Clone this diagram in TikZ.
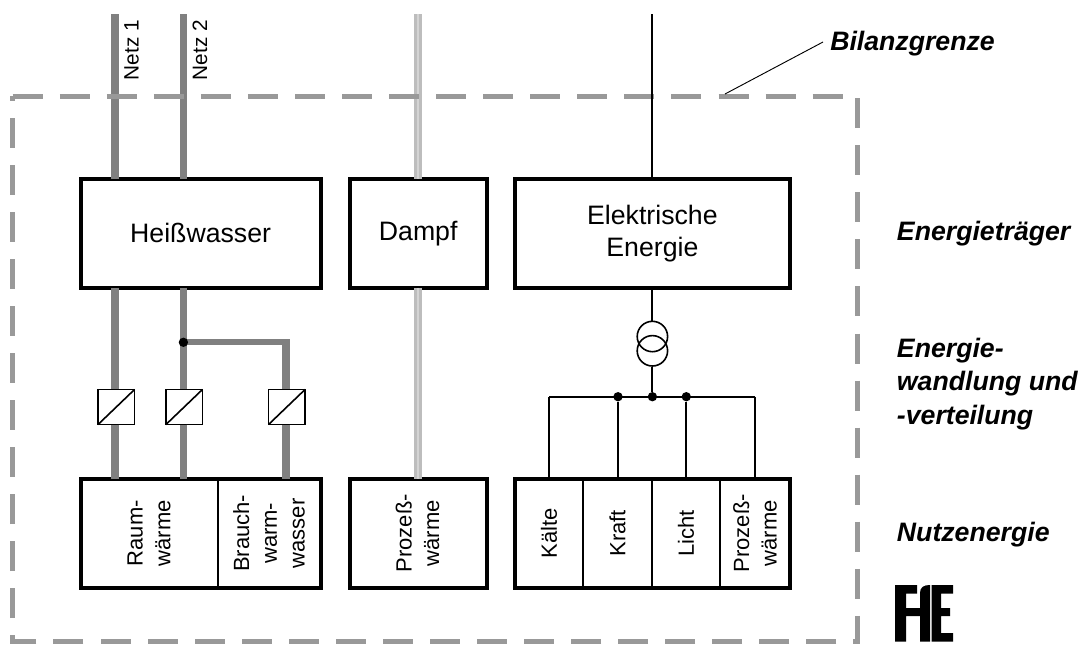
\documentclass[tikz,border=0pt]{standalone}
\usepackage{fontspec}
\setmainfont{Liberation Sans}
\usetikzlibrary{calc}

\definecolor{heizgrau}{HTML}{808080}
\definecolor{dampfgrau}{HTML}{BDBDBD}
\definecolor{dampfhell}{HTML}{D4D4D4}
\definecolor{grenzgrau}{HTML}{999999}

\begin{document}
\begin{tikzpicture}[
    x=0.75pt,
    y=-0.75pt,
    kasten/.style={
        draw,
        fill=white,
        line width=3pt,
        minimum height=82pt,
        inner sep=0pt,
        outer sep=0pt,
        align=center,
        font=\fontsize{20}{24}\selectfont
    },
    wandler/.style={
        draw,
        fill=white,
        line width=1.2pt,
        minimum width=27.4pt,
        minimum height=26.3pt,
        inner sep=0pt,
        outer sep=0pt
    },
    heizung/.style={draw=heizgrau, line width=5.5pt},
    leitung/.style={draw=black, line width=1.4pt},
    trennung/.style={draw=black, line width=1.4pt},
    punkt/.style={circle, fill=black, minimum size=7pt, inner sep=0pt},
    trafo/.style={circle, draw, line width=1.2pt, minimum size=22.8pt, inner sep=0pt},
    nutzung/.style={
        rotate=90,
        align=center,
        inner sep=0pt,
        font=\fontsize{16.5}{20.8}\selectfont
    },
    netzname/.style={
        rotate=90,
        anchor=base west,
        inner sep=0pt,
        font=\fontsize{15.6}{18}\selectfont
    },
    ebene/.style={
        anchor=base west,
        align=left,
        inner sep=0pt,
        font=\fontsize{20}{25}\selectfont\bfseries\itshape
    }
]
    \useasboundingbox (0,0) rectangle (1083,644);

    % Column positions
    \pgfmathsetmacro{\xNetzA}{115}
    \pgfmathsetmacro{\xNetzB}{183.4}
    \pgfmathsetmacro{\xBrauch}{286}
    \pgfmathsetmacro{\xDampf}{418}
    \pgfmathsetmacro{\xStrom}{652.4}

    % Free ends at the top
    \coordinate (netzA) at (\xNetzA,14);
    \coordinate (netzB) at (\xNetzB,14);
    \coordinate (dampfrohr) at (\xDampf,14);
    \coordinate (stromnetz) at (\xStrom,14);
    \coordinate (brauchrohr) at (\xBrauch,342.3);

    % Boxes, upper row
    \path (200.6,233.3) node[kasten, minimum width=180.15pt] (heiss) {Heißwasser};
    \path (418.2,233.3) node[kasten, minimum width=102.6pt] (dampf) {Dampf};
    \path (652.4,233.3) node[kasten, minimum width=205.9pt] (strom) {Elektrische\\Energie};

    % Boxes, lower row
    \path (200.6,533.3) node[kasten, minimum width=180.15pt] (nutzA) {};
    \path (418.2,533.3) node[kasten, minimum width=102.6pt] (nutzB) {};
    \path (652.4,533.3) node[kasten, minimum width=205.9pt] (nutzC) {};

    % Converters
    \node[wandler] (wandlerA) at (116.3,407) {};
    \node[wandler] (wandlerB) at (184.2,407) {};
    \node[wandler] (wandlerC) at (286.8,407) {};

    % Heating lines
    \draw[heizung, line width=6pt] (netzA) -- (netzA |- heiss.north);
    \draw[heizung, line width=5pt] (netzB) -- (netzB |- heiss.north);
    \draw[heizung, line width=6pt] (netzA |- heiss.south) -- (netzA |- wandlerA.north);
    \draw[heizung, line width=6pt] (netzA |- wandlerA.south) -- (netzA |- nutzA.north);
    \draw[heizung, line width=5pt] (netzB |- heiss.south) -- (netzB |- wandlerB.north);
    \draw[heizung, line width=5pt] (netzB |- wandlerB.south) -- (netzB |- nutzA.north);
    \draw[heizung, line width=4.7pt] (netzB |- brauchrohr) -- (brauchrohr);
    \draw[heizung] (brauchrohr) ++(0,-3) -- (brauchrohr |- wandlerC.north);
    \draw[heizung] (brauchrohr |- wandlerC.south) -- (brauchrohr |- nutzA.north);

    % Steam line
    \foreach \farbe/\breite in {dampfgrau/5.6pt, dampfhell/1.8pt} {
        \draw[draw=\farbe, line width=\breite] (dampfrohr) -- (dampfrohr |- dampf.north);
        \draw[draw=\farbe, line width=\breite] (dampfrohr |- dampf.south) -- (dampfrohr |- nutzB.north);
    }

    % Boundary
    \draw[grenzgrau, line width=3.75pt, dash pattern=on 22.5pt off 12.79pt]
        (12.7,96.3) -- (857.7,96.3) -- (857.7,641.5) -- (12.7,641.5) -- cycle;

    % Converter diagonals
    \foreach \name in {wandlerA,wandlerB,wandlerC} {
        \draw[line width=1.2pt] (\name.south west) -- (\name.north east);
    }

    \node[punkt] (abzweig) at (\xNetzB,342.3) {};

    % Electric side
    \node[trafo] (trafoA) at (\xStrom,336.5) {};
    \node[trafo] (trafoB) at (\xStrom,350.8) {};
    \node[punkt] (busKraft) at (618,396.7) {};
    \node[punkt] (busMitte) at (\xStrom,396.7) {};
    \node[punkt] (busLicht) at (686.3,396.7) {};
    \coordinate (busL) at (549.3,396.7);
    \coordinate (busR) at (755,396.7);

    \draw[leitung] (stromnetz) -- (strom.north);
    \draw[leitung] (strom.south) -- (trafoA.north);
    \draw[leitung] (trafoB.south) -- (busMitte);
    \draw[leitung, line width=1.2pt] (busL) -- (busR);
    \foreach \name in {busL,busKraft,busLicht,busR} {
        \draw[leitung] (\name) -- (\name |- nutzC.north);
    }

    % Dividers
    \foreach \x/\name in {217.7/nutzA,583.3/nutzC,652/nutzC,720.3/nutzC} {
        \draw[trennung] (\x,0 |- \name.north) -- (\x,0 |- \name.south);
    }

    % Lower row text
    \node[nutzung] (raum) at (149,533.3) {Raum-\\wärme};
    \node[nutzung] (brauch) at (269,533.3) {Brauch-\\warm-\\wasser};
    \node[nutzung] (prozessA) at (417.5,533.3) {Prozeß-\\wärme};
    \node[nutzung] (kaelte) at (549,533.3) {Kälte};
    \node[nutzung] (kraft) at (617.6,533.3) {Kraft};
    \node[nutzung] (licht) at (686,533.3) {Licht};
    \node[nutzung] (prozessB) at (755,533.3) {Prozeß-\\wärme};

    % Net names
    \node[netzname] (nameA) at (138.5,80.5) {Netz 1};
    \node[netzname] (nameB) at (207,80.5) {Netz 2};

    % Right column
    \node[ebene] (bilanz) at (830,50) {Bilanzgrenze};
    \node[ebene] (traeger) at (896.7,240.7) {Energieträger};
    \node[ebene] (wandlung) at (896.7,424) {Energie-\\wandlung und\\-verteilung};
    \node[ebene] (nutzen) at (896.7,541.7) {Nutzenergie};

    \coordinate (bilanzfuss) at (725,94);
    \coordinate (bilanzkopf) at (823,42);
    \draw[line width=0.7pt] (bilanzfuss) -- (bilanzkopf);

    % Logo
    \fill[black]
        (895,585) -- (917,585) -- (917,593.5) -- (906,593.5) -- (906,608) -- (920,608)
        -- (920,616) -- (906,616) -- (906,641.5) -- (895,641.5) -- cycle;
    \fill[black]
        (920,641.5) -- (920,593) .. controls (920,587) and (924,585) .. (930,585)
        -- (930,641.5) -- cycle;
    \fill[black]
        (931.5,585) -- (953,585) -- (953,593.5) -- (941,593.5) -- (941,608) -- (950,608)
        -- (950,616) -- (941,616) -- (941,633) -- (953,633) -- (953,641.5)
        -- (931.5,641.5) -- cycle;
\end{tikzpicture}
\end{document}
